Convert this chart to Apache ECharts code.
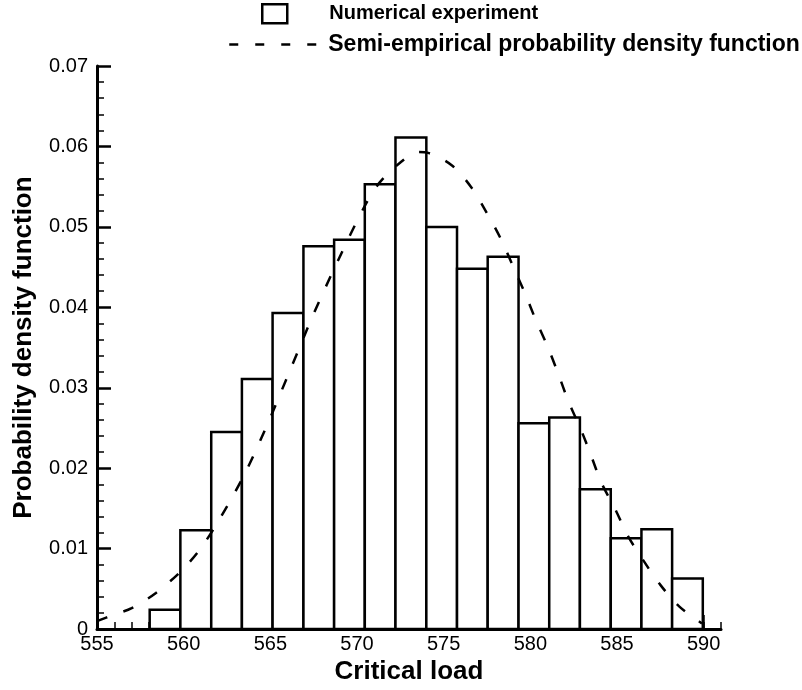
<!DOCTYPE html>
<html>
<head>
<meta charset="utf-8">
<script src="https://cdn.jsdelivr.net/npm/echarts@6/dist/echarts.min.js"></script>
<style>
  html, body { margin: 0; padding: 0; background: #fff; }
  #chart { width: 802px; height: 690px; }
</style>
</head>
<body>
<div id="chart"></div>
<script>
// histogram bins: left/right edges, heights in pdf units
var binEdges = [558.04, 559.81, 561.59, 563.36, 565.13, 566.91, 568.68, 570.45, 572.22,
  574.00, 575.77, 577.54, 579.32, 581.09, 582.86, 584.64, 586.41, 588.18, 589.95];
var binHeights = [0.0024, 0.0123, 0.0245, 0.0311, 0.0393, 0.0476, 0.0484, 0.0553, 0.0611,
  0.0500, 0.0448, 0.0463, 0.0256, 0.0263, 0.0174, 0.0113, 0.0124, 0.0063];

// semi-empirical pdf curve
var curveX = [555.0, 556.0, 557.0, 558.4, 559.8, 560.9, 562.0, 563.5, 564.8, 566.2, 567.5,
  568.9, 570.4, 571.3, 572.5, 573.5, 574.1, 575.5, 576.6, 577.5, 578.3, 579.0, 579.7,
  580.3, 581.0, 581.6, 582.2, 582.9, 583.5, 584.1, 584.9, 585.6, 586.5, 587.5, 588.6, 589.9];
var curveY = [0.0010, 0.0018, 0.0026, 0.0045, 0.0071, 0.0098, 0.0134, 0.0192, 0.0253, 0.0325, 0.0392,
  0.0458, 0.0524, 0.0555, 0.0580, 0.0593, 0.0592, 0.0576, 0.0549, 0.0517, 0.0485, 0.0451, 0.0417,
  0.0385, 0.0351, 0.0318, 0.0283, 0.0249, 0.0216, 0.0182, 0.0149, 0.0117, 0.0086, 0.0055, 0.0028, 0.0007];

var xTicks = [555, 560, 565, 570, 575, 580, 585, 590];
var yTicks = [0, 0.01, 0.02, 0.03, 0.04, 0.05, 0.06, 0.07];

var FONT = "'Liberation Sans', Arial, Helvetica, sans-serif";
var histName = "Numerical experiment";
var curveName = "Semi-empirical probability density function";

var histData = [];
for (var i = 0; i < binHeights.length; i++) {
  histData.push([binEdges[i], binEdges[i + 1], binHeights[i]]);
}
var curveData = curveX.map(function (x, i) { return [x, curveY[i]]; });

var chart = echarts.init(document.getElementById("chart"), null, { renderer: "canvas" });
chart.setOption({
  animation: false,
  backgroundColor: "#fff",
  legend: [
    {
      data: [{
        name: histName,
        icon: "rect",
        itemStyle: { color: "#fff", borderColor: "#000", borderWidth: 2.5 }
      }],
      left: 256,
      top: -2,
      itemWidth: 25,
      itemHeight: 19,
      selectedMode: false,
      textStyle: { fontFamily: FONT, fontWeight: "bold", fontSize: 20, color: "#000", padding: [0, 0, 0, 37] }
    },
    {
      data: [curveName],
      left: 223,
      top: 28,
      itemWidth: 90,
      itemHeight: 14,
      selectedMode: false,
      itemStyle: { color: "rgba(0,0,0,0)", borderWidth: 0, opacity: 0 },
      lineStyle: { color: "#000", width: 2.5, type: [9, 17] },
      textStyle: { fontFamily: FONT, fontWeight: "bold", fontSize: 23, color: "#000", padding: [0, 0, 0, 4] }
    }
  ],
  grid: { left: 97, right: 81, top: 66, bottom: 52, containLabel: false },
  xAxis: [
    {
      // minor ticks every 1 unit
      type: "value",
      min: 555,
      max: 591,
      interval: 1,
      position: "bottom",
      axisLine: { show: true, lineStyle: { color: "#000", width: 3 } },
      axisTick: { show: true, inside: true, length: 7, lineStyle: { color: "#000", width: 1.5 } },
      axisLabel: { show: false },
      splitLine: { show: false }
    },
    {
      type: "value",
      min: 555,
      max: 591,
      interval: 5,
      position: "bottom",
      name: "Critical load",
      nameLocation: "middle",
      nameGap: 27,
      nameTextStyle: { fontFamily: FONT, fontWeight: "bold", fontSize: 26, color: "#000" },
      axisLine: { show: false },
      axisTick: { show: true, inside: true, length: 14, customValues: xTicks, lineStyle: { color: "#000", width: 2.5 } },
      axisLabel: { show: true, customValues: xTicks, margin: 5, fontFamily: FONT, fontSize: 20, color: "#000" },
      splitLine: { show: false }
    }
  ],
  yAxis: {
    type: "value",
    min: 0,
    max: 0.07,
    interval: 0.01,
    name: "Probability density function",
    nameLocation: "middle",
    nameGap: 60,
    nameTextStyle: { fontFamily: FONT, fontWeight: "bold", fontSize: 26, color: "#000" },
    axisLine: { show: true, lineStyle: { color: "#000", width: 3 } },
    axisTick: { show: true, inside: true, length: 14, lineStyle: { color: "#000", width: 2.5 } },
    minorTick: { show: true, splitNumber: 5, length: 7, lineStyle: { color: "#000", width: 1.5 } },
    axisLabel: {
      margin: 9, fontFamily: FONT, fontSize: 20, color: "#000",
      formatter: function (v) { return String(+v.toFixed(2)); }
    },
    splitLine: { show: false }
  },
  series: [
    {
      name: histName,
      type: "custom",
      xAxisIndex: 0,
      encode: { x: [0, 1], y: 2 },
      data: histData,
      z: 2,
      itemStyle: { color: "#fff", borderColor: "#000" },
      renderItem: function (params, api) {
        var p0 = api.coord([api.value(0), api.value(2)]);
        var p1 = api.coord([api.value(1), 0]);
        return {
          type: "rect",
          shape: { x: p0[0], y: p0[1], width: p1[0] - p0[0], height: p1[1] - p0[1] },
          style: { fill: "#fff", stroke: "#000", lineWidth: 2.5 }
        };
      }
    },
    {
      name: curveName,
      type: "line",
      xAxisIndex: 0,
      data: curveData,
      smooth: 0.3,
      symbol: "none",
      z: 3,
      itemStyle: { color: "#000" },
      lineStyle: { color: "#000", width: 2.5, type: [11, 17] }
    }
  ]
});
</script>
</body>
</html>
